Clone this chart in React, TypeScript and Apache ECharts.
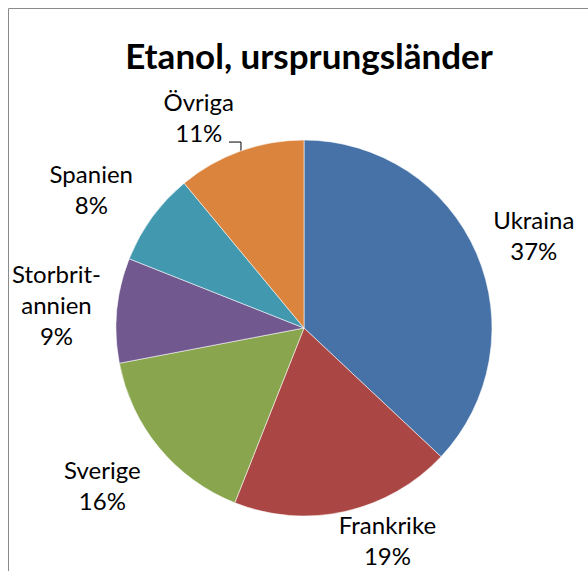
import React, { useEffect, useRef } from "react";
import * as echarts from "echarts";

const titleText = "Etanol, ursprungsländer";
const categories = ["Ukraina", "Frankrike", "Sverige", "Storbritannien", "Spanien", "Övriga"];
const labelNames = ["Ukraina", "Frankrike", "Sverige", "Storbrit-\nannien", "Spanien", "Övriga"];
const shares = [37, 19, 16, 9, 8, 11];
const colors = ["#4672A8", "#AA4643", "#89A54E", "#71588F", "#4198AF", "#DB843D"];

const CX = 304;
const CY = 328;
const R = 188;
const GAP = 204;

export default function App() {
  const ref = useRef<HTMLDivElement>(null);
  useEffect(() => {
    if (!ref.current) return;
    const chart = echarts.init(ref.current, undefined, { renderer: "svg" });
    const total = shares.reduce((a, b) => a + b, 0);
    const mids: number[] = [];
    let acc = 0;
    shares.forEach((v) => {
      mids.push(((acc + v / 2) / total) * Math.PI * 2);
      acc += v;
    });
    // small placement nudges, like Excel's label collision handling
    const nudge = [
      [2, 6],
      [32, -18],
      [-7, -4],
      [0, 0],
      [-6, 11],
      [-25, 12],
    ];
    chart.setOption({
      animation: false,
      backgroundColor: "#ffffff",
      title: {
        text: titleText,
        left: 304,
        textAlign: "center",
        top: 32,
        textStyle: { fontFamily: "Lato", fontWeight: "bold", fontSize: 35, color: "#000" },
      },
      graphic: [
        {
          type: "rect",
          shape: { x: 8.5, y: 8.5, width: 700, height: 700 },
          style: { fill: "none", stroke: "#8a8a8a", lineWidth: 1 },
          silent: true,
        },
      ],
      series: [
        {
          type: "pie",
          center: [CX, CY],
          radius: R,
          startAngle: 90,
          clockwise: true,
          itemStyle: { borderColor: "rgba(255,255,255,0.55)", borderWidth: 1 },
          label: {
            show: true,
            position: "outside",
            fontFamily: "Lato",
            fontSize: 24,
            lineHeight: 31,
            color: "#000",
            align: "center",
            overflow: "none",
            edgeDistance: 0,
            formatter: (p: any) => `${labelNames[p.dataIndex]}\n${p.value}%`,
          },
          labelLine: { show: false },
          labelLayout: (p: any) => {
            const i = p.dataIndex;
            const a = mids[i];
            const dx = Math.sin(a);
            const dy = -Math.cos(a);
            const w = p.labelRect.width / 2;
            const h = p.labelRect.height / 2;
            const t = GAP + Math.min(w / Math.max(Math.abs(dx), 1e-6), h / Math.max(Math.abs(dy), 1e-6));
            const x = CX + t * dx + nudge[i][0];
            const y = CY + t * dy + nudge[i][1];
            const res: any = { x, y, align: "center", verticalAlign: "middle" };
            if (i === shares.length - 1) {
              const sx = x + w - 5;
              const sy = y + h - 6;
              const ex = sx + 12;
              const ey = CY - Math.sqrt(R * R - (ex - CX) * (ex - CX));
              res.labelLinePoints = [
                [sx, sy],
                [ex, sy],
                [ex, ey],
              ];
            }
            return res;
          },
          data: categories.map((name, i) => ({
            name,
            value: shares[i],
            itemStyle: { color: colors[i] },
            labelLine:
              i === shares.length - 1
                ? { show: true, length: 5, length2: 5, lineStyle: { color: "#000", width: 1 } }
                : { show: false },
          })),
        },
      ],
    });
    return () => chart.dispose();
  }, []);
  return (
    <div style={{ position: "fixed", left: 0, top: 0, width: 588, height: 571, overflow: "hidden" }}>
      <div ref={ref} style={{ width: 588, height: 571 }} />
    </div>
  );
}
